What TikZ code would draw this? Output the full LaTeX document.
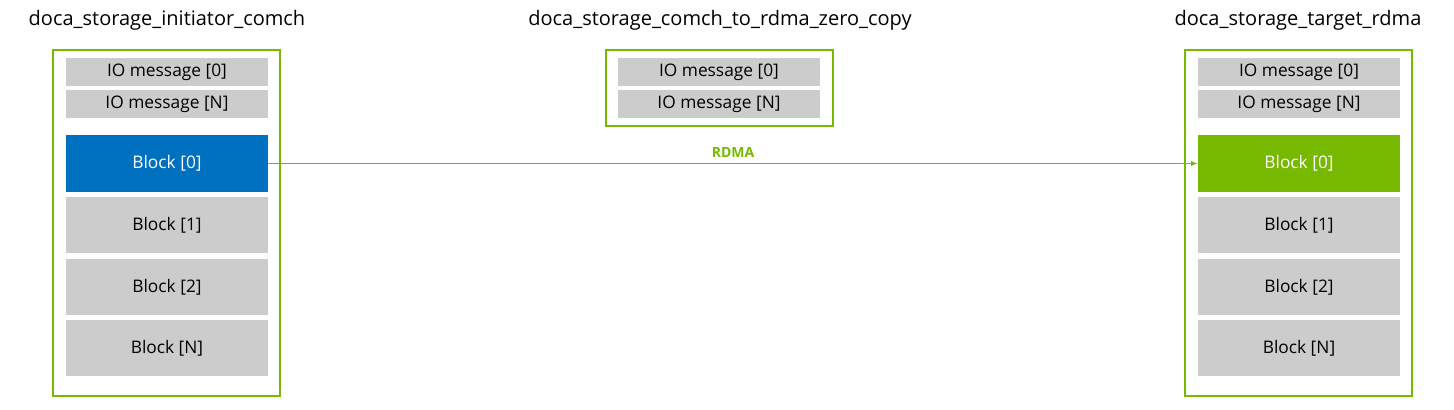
\documentclass[tikz,border=0pt]{standalone}
\usepackage{fontspec}
\setmainfont{Open Sans}
\usetikzlibrary{arrows.meta}
\definecolor{nvgreen}{RGB}{118,185,0}
\definecolor{blkblue}{RGB}{0,112,192}
\definecolor{cellgray}{RGB}{204,204,204}
\tikzset{
    frame/.style={draw=nvgreen, line width=1.2pt, inner sep=0pt},
    msg/.style={fill=cellgray, minimum width=151.5pt, minimum height=21pt, inner sep=0pt, font=\fontsize{13}{15}\selectfont},
    blk/.style={fill=cellgray, minimum width=151.5pt, minimum height=42.5pt, inner sep=0pt, font=\fontsize{13}{15}\selectfont},
    title/.style={font=\fontsize{15}{18}\selectfont}
}
\begin{document}
\begin{tikzpicture}[x=0.75pt, y=-0.75pt]
    \useasboundingbox (0,0) rectangle (1454,410);

    % containers
    \draw[frame] (53,50) rectangle (280,396);
    \draw[frame] (606,50) rectangle (833,126);
    \draw[frame] (1185,50) rectangle (1412,396);

    % titles
    \node[title] (tinit) at (167,20) {doca\_storage\_initiator\_comch};
    \node[title] (tzc) at (720,20) {doca\_storage\_comch\_to\_rdma\_zero\_copy};
    \node[title] (ttgt) at (1298,20) {doca\_storage\_target\_rdma};

    % io messages
    \foreach \cx/\nm in {167/init, 719/zc, 1299/tgt}{
        \node[msg] (\nm m0) at (\cx,72) {IO message [0]};
        \node[msg] (\nm mN) at (\cx,104) {IO message [N]};
    }

    % blocks
    \foreach \cx/\nm in {167/init, 1299/tgt}{
        \node[blk] (\nm b1) at (\cx,225) {Block [1]};
        \node[blk] (\nm b2) at (\cx,287) {Block [2]};
        \node[blk] (\nm bN) at (\cx,348) {Block [N]};
    }
    \node[blk, fill=blkblue, text=white] (initb0) at (167,163.5) {Block [0]};
    \node[blk, fill=nvgreen, text=white] (tgtb0) at (1299,163.5) {Block [0]};

    \draw[nvgreen, line width=0.8pt, -{Latex[length=5pt,width=4pt]}] (initb0) -- node[above=1pt, font=\fontsize{10.5}{12}\selectfont\bfseries] {RDMA} (tgtb0);
\end{tikzpicture}
\end{document}
